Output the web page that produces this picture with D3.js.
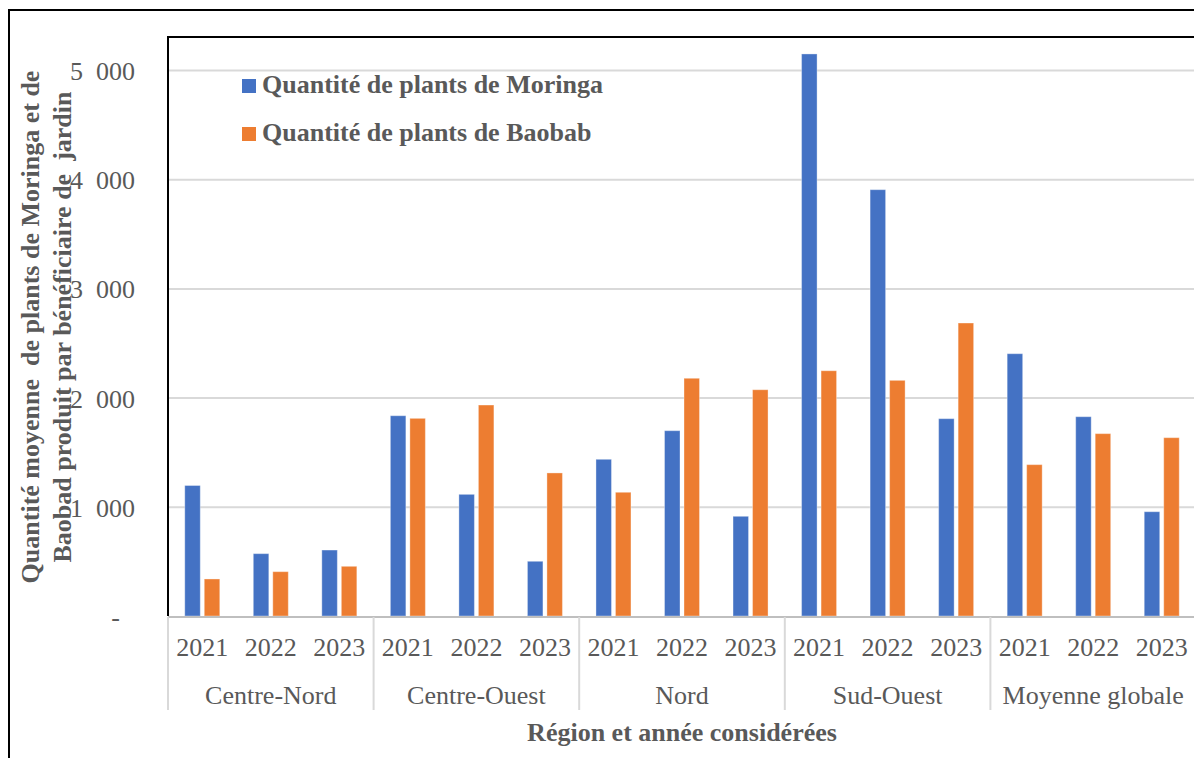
<!DOCTYPE html>
<html>
<head>
<meta charset="utf-8">
<script src="https://cdn.jsdelivr.net/npm/d3@7"></script>
<style>
    body { margin: 0; background: #fff; }
    svg { display: block; font-family: "Liberation Serif", "Times New Roman", serif; }
    text { fill: #595959; white-space: pre; }
</style>
</head>
<body>
<svg id="chart" width="1194" height="758"></svg>
<script>
const regions = ["Centre-Nord", "Centre-Ouest", "Nord", "Sud-Ouest", "Moyenne globale"];
const years = ["2021", "2022", "2023"];
const moringa = [1195, 571, 604, 1834, 1114, 501, 1435, 1697, 913, 5147, 3904, 1807, 2402, 1825, 955];
const baobab = [339, 406, 455, 1810, 1932, 1310, 1133, 2177, 2072, 2246, 2158, 2683, 1386, 1670, 1633];
const seriesNames = ["Quantité de plants de Moringa", "Quantité de plants de Baobab"];
const yTicks = [0, 1000, 2000, 3000, 4000, 5000];
const yTitle = ["Quantité moyenne  de plants de Moringa et de", "Baobad produit par bénéficiaire de  jardin"];
const xTitle = "Région et année considérées";

const colors = ["#4472C4", "#ED7D31"];
const svg = d3.select("#chart");

const plotLeft = 168, plotRight = 1196, plotTop = 37, plotBottom = 616;

const keys = [];
regions.forEach(r => years.forEach(yr => keys.push(r + "|" + yr)));
const rows = keys.map((k, i) => ({ key: k, region: k.split("|")[0], year: k.split("|")[1], values: [moringa[i], baobab[i]] }));

const x0 = d3.scaleBand().domain(keys).range([plotLeft, plotRight]);
const bw = x0.bandwidth();
const x1 = d3.scaleBand().domain([0, 1]).range([bw / 2 - 17.5, bw / 2 + 17.5]).paddingInner(0.205);
const y = d3.scaleLinear().domain([0, 5000]).range([plotBottom, 70]);

// outer frame
svg.append("path").attr("d", `M9,758 L9,10 L1194,10`).attr("fill", "none").attr("stroke", "#000").attr("stroke-width", 2);

// gridlines
svg.append("g")
    .attr("transform", `translate(${plotLeft},0)`)
    .call(d3.axisLeft(y).tickValues(yTicks.filter(d => d > 0)).tickSize(-(1194 - plotLeft)).tickFormat(""))
    .call(g => g.select(".domain").remove())
    .call(g => g.selectAll("line").attr("stroke", "#d9d9d9").attr("stroke-width", 2));

// y labels
const fmt = d => d === 0 ? "-" : d3.format(",")(d).replace(",", "\u2002");
svg.append("g")
    .attr("transform", `translate(135,0)`)
    .call(d3.axisLeft(y).tickValues(yTicks).tickSize(0).tickPadding(0).tickFormat(fmt))
    .call(g => g.select(".domain").remove())
    .call(g => g.selectAll("text")
        .attr("font-size", 26).attr("fill", "#595959").attr("dy", "9.5")
        .attr("dx", d => d === 0 ? -15 : 0)
        .style("font-family", "'Liberation Serif', serif"));

// bars
const grp = svg.append("g").selectAll("g").data(rows).enter().append("g")
    .attr("transform", d => `translate(${x0(d.key)},0)`);
grp.selectAll("rect").data(d => d.values.map((v, i) => ({ v, i }))).enter().append("rect")
    .attr("x", d => x1(d.i))
    .attr("width", x1.bandwidth())
    .attr("y", d => y(d.v))
    .attr("height", d => y(0) - y(d.v))
    .attr("fill", d => colors[d.i])
    .attr("stroke", "#fff").attr("stroke-opacity", 0.35).attr("stroke-width", 1);

// category axis
svg.append("line").attr("x1", plotLeft).attr("x2", 1194).attr("y1", plotBottom + 1).attr("y2", plotBottom + 1)
    .attr("stroke", "#bfbfbf").attr("stroke-width", 2);

const xAxis = svg.append("g");
xAxis.selectAll("text.yr").data(rows).enter().append("text")
    .attr("class", "yr")
    .attr("x", d => x0(d.key) + bw / 2)
    .attr("y", 656)
    .attr("text-anchor", "middle")
    .attr("font-size", 26)
    .text(d => d.year);

const regionScale = d3.scaleBand().domain(regions).range([plotLeft, plotRight]);
xAxis.selectAll("text.rg").data(regions).enter().append("text")
    .attr("class", "rg")
    .attr("x", d => regionScale(d) + regionScale.bandwidth() / 2)
    .attr("y", 704)
    .attr("text-anchor", "middle")
    .attr("font-size", 26)
    .text(d => d);

xAxis.selectAll("line.sep").data(regions.concat(["end"])).enter().append("line")
    .attr("class", "sep")
    .attr("x1", (d, i) => plotLeft + i * regionScale.bandwidth())
    .attr("x2", (d, i) => plotLeft + i * regionScale.bandwidth())
    .attr("y1", plotBottom + 1).attr("y2", 710)
    .attr("stroke", "#d9d9d9").attr("stroke-width", 2);

// plot area border (left + top)
svg.append("path").attr("d", `M${plotLeft},${plotBottom} L${plotLeft},${plotTop} L1194,${plotTop}`)
    .attr("fill", "none").attr("stroke", "#000").attr("stroke-width", 2);

// legend
const legend = svg.append("g");
seriesNames.forEach((name, i) => {
    legend.append("rect").attr("x", 242).attr("y", 79 + i * 48).attr("width", 14).attr("height", 14).attr("fill", colors[i]);
    legend.append("text").attr("x", 262).attr("y", 93 + i * 48)
        .attr("font-size", 26).attr("font-weight", "bold").text(name);
});

// axis titles
const yt = svg.append("g").attr("transform", `translate(0,327) rotate(-90)`);
yTitle.forEach((t, i) => {
    yt.append("text").attr("x", 0).attr("y", 39 + i * 32)
        .attr("text-anchor", "middle").attr("font-size", 26).attr("font-weight", "bold").text(t);
});
svg.append("text").attr("x", 682).attr("y", 741).attr("text-anchor", "middle")
    .attr("font-size", 26).attr("font-weight", "bold").text(xTitle);
</script>
</body>
</html>
